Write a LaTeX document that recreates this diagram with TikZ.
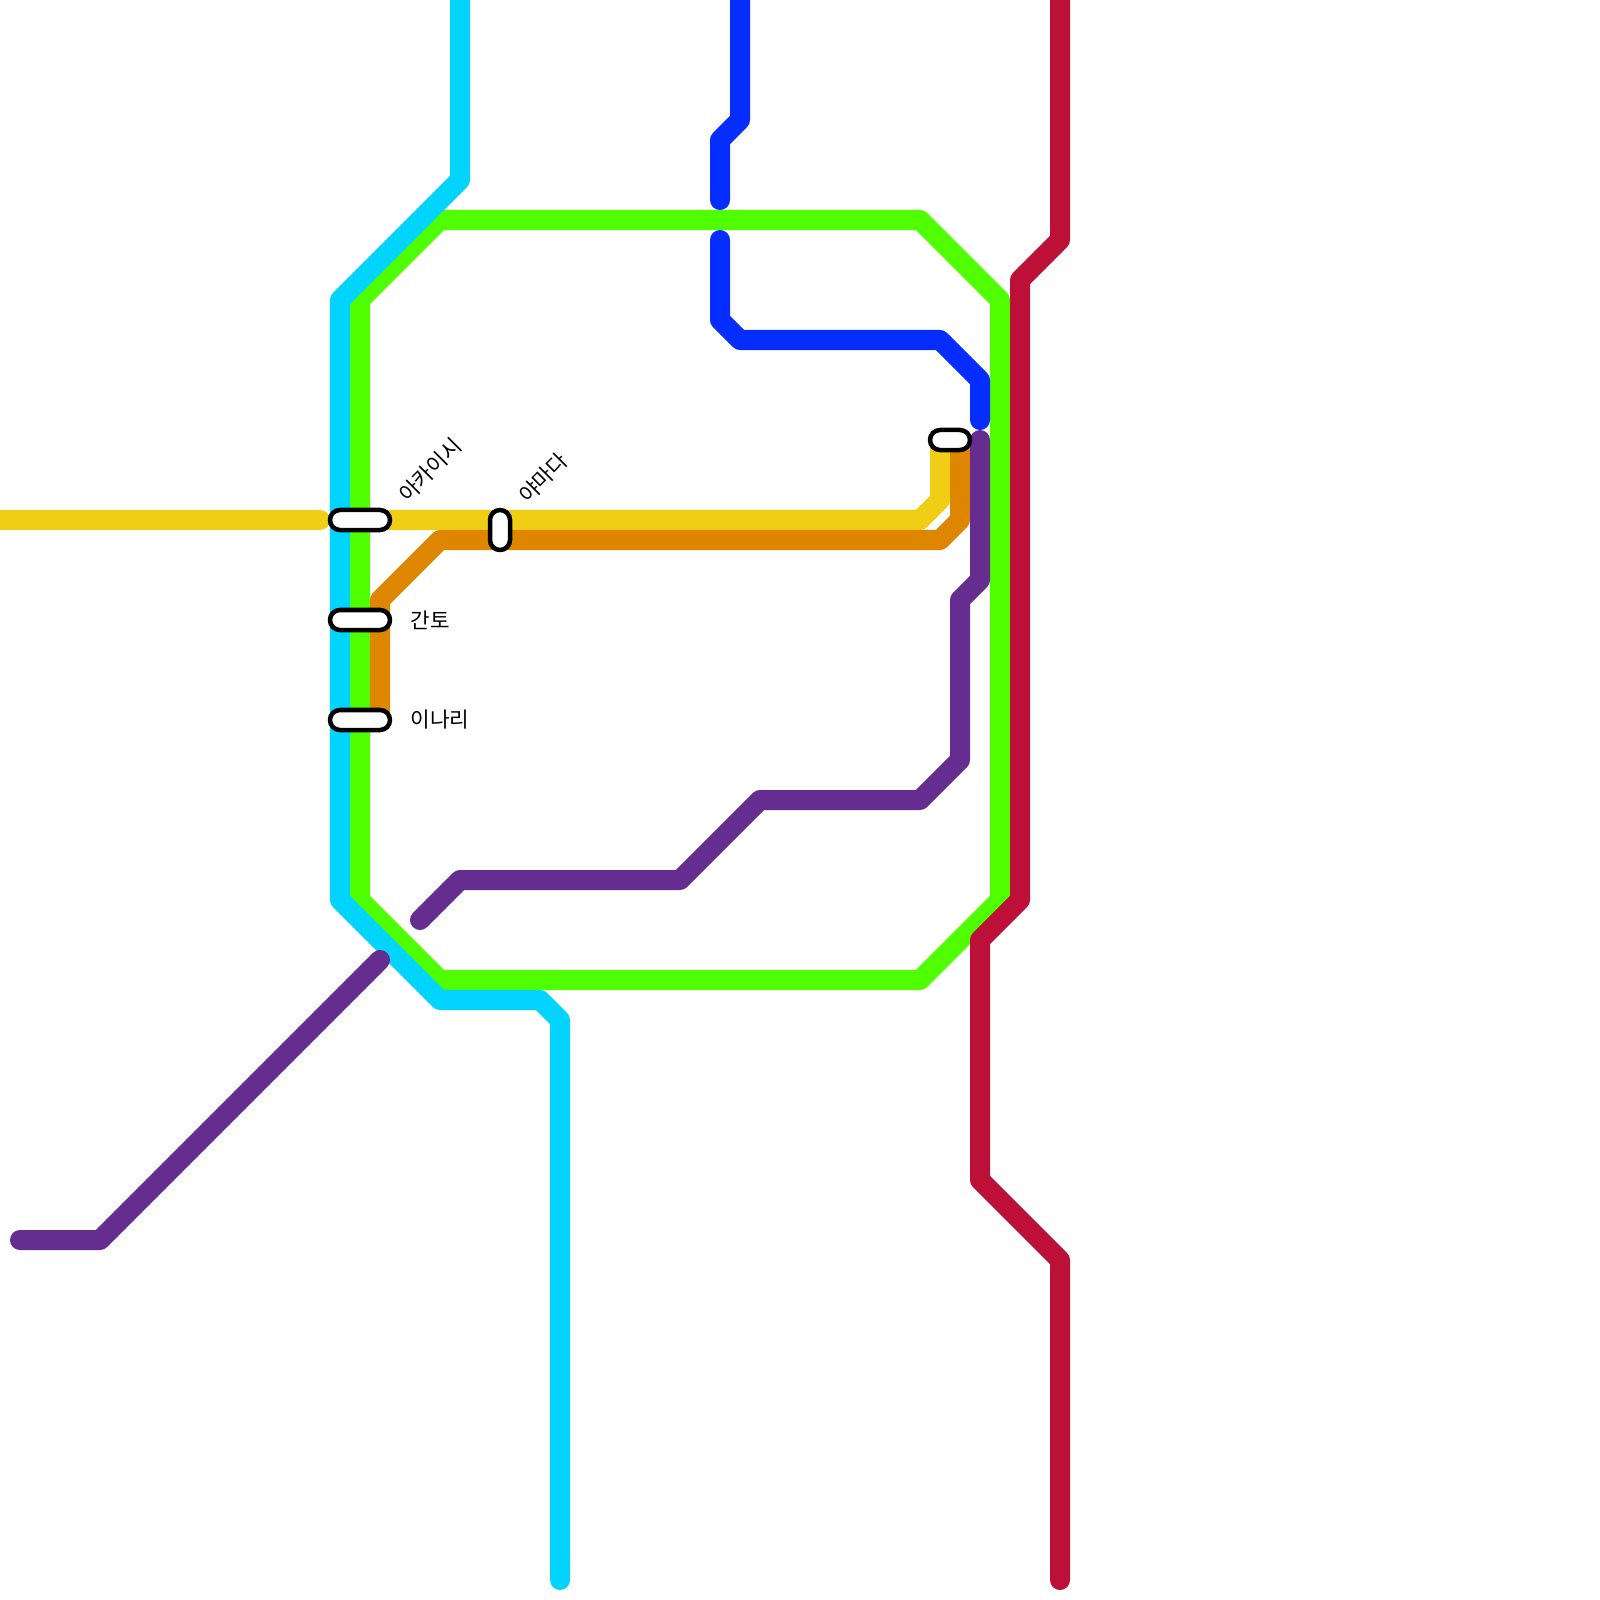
\documentclass[tikz,border=0pt]{standalone}
\usepackage{fontspec}
\newfontfamily\krfont{Noto Sans CJK KR}
\definecolor{lineCyan}{HTML}{00D4FF}
\definecolor{lineGreen}{HTML}{4FFF00}
\definecolor{lineRed}{HTML}{BC1038}
\definecolor{lineBlue}{HTML}{052DFF}
\definecolor{linePurple}{HTML}{662D91}
\definecolor{lineYellow}{HTML}{F0CE15}
\definecolor{lineOrange}{HTML}{DF8600}
\tikzset{
  metro/.style={line width=0.2cm, line cap=round, line join=round},
  station/.style={draw=black, fill=white, line width=0.045cm, rectangle, rounded corners=0.1cm, inner sep=0pt, minimum width=0.2cm, minimum height=0.2cm},
  stationL/.style={station, minimum width=0.6cm},
  stationS/.style={station, minimum width=0.4cm},
  stationV/.style={station, minimum height=0.4cm},
  stationname/.style={inner sep=0pt, font=\krfont\fontsize{6.05}{7}\selectfont}
}
\begin{document}
\begin{tikzpicture}[x=0.01cm, y=-0.01cm]
        \useasboundingbox (0,0) rectangle (1600,1600);

        % Line ends
        \coordinate (cyanN) at (460,0);
        \coordinate (cyanS) at (560,1580);
        \coordinate (blueN) at (740,0);
        \coordinate (blueA) at (720,200);
        \coordinate (blueB) at (720,240);
        \coordinate (blueE) at (980,420);
        \coordinate (redN) at (1060,0);
        \coordinate (redS) at (1060,1580);
        \coordinate (yellowW) at (0,520);
        \coordinate (yellowA) at (320,520);
        \coordinate (yellowB) at (380,520);
        \coordinate (yellowE) at (940,440);
        \coordinate (orangeS) at (380,720);
        \coordinate (orangeE) at (960,440);
        \coordinate (purpleA) at (20,1240);
        \coordinate (purpleB) at (380,960);
        \coordinate (purpleC) at (420,920);
        \coordinate (purpleD) at (980,440);

        % Loop
        \draw[metro, lineGreen] (440,220) -- (920,220) -- (1000,300) -- (1000,900) -- (920,980) -- (440,980) -- (360,900) -- (360,300) -- cycle;

        % Cyan
        \draw[metro, lineCyan] (cyanN) -- (460,180) -- (340,300) -- (340,900) -- (440,1000) -- (540,1000) -- (560,1020) -- (cyanS);

        % Red
        \draw[metro, lineRed] (redN) -- (1060,240) -- (1020,280) -- (1020,900) -- (980,940) -- (980,1180) -- (1060,1260) -- (redS);

        % Blue
        \draw[metro, lineBlue] (blueN) -- (740,120) -- (720,140) -- (blueA);
        \draw[metro, lineBlue] (blueB) -- (720,320) -- (740,340) -- (940,340) -- (980,380) -- (blueE);

        % Yellow
        \draw[metro, lineYellow] (yellowW) -- (yellowA);
        \draw[metro, lineYellow] (yellowB) -- (920,520) -- (940,500) -- (yellowE);

        % Orange
        \draw[metro, lineOrange] (orangeS) -- (380,600) -- (440,540) -- (940,540) -- (960,520) -- (orangeE);

        % Purple
        \draw[metro, linePurple] (purpleA) -- (100,1240) -- (purpleB);
        \draw[metro, linePurple] (purpleC) -- (460,880) -- (680,880) -- (760,800) -- (920,800) -- (960,760) -- (960,600) -- (980,580) -- (purpleD);

        % Stations
        \node[stationL] (akaishi) at (360,520) {};
        \node[stationL] (kanto) at (360,620) {};
        \node[stationL] (inari) at (360,720) {};
        \node[stationV] (yamada) at (500,530) {};
        \node[stationS] (east) at (950,440) {};

        % Labels
        \node[stationname, rotate=45, anchor=west] (akaishilabel) at (402,498) {아카이시};
        \node[stationname, rotate=45, anchor=west] (yamadalabel) at (522,499) {야마다};
        \node[stationname, anchor=west] (kantolabel) at (410,620) {간토};
        \node[stationname, anchor=west] (inarilabel) at (410,720) {이나리};
    \end{tikzpicture}
\end{document}
